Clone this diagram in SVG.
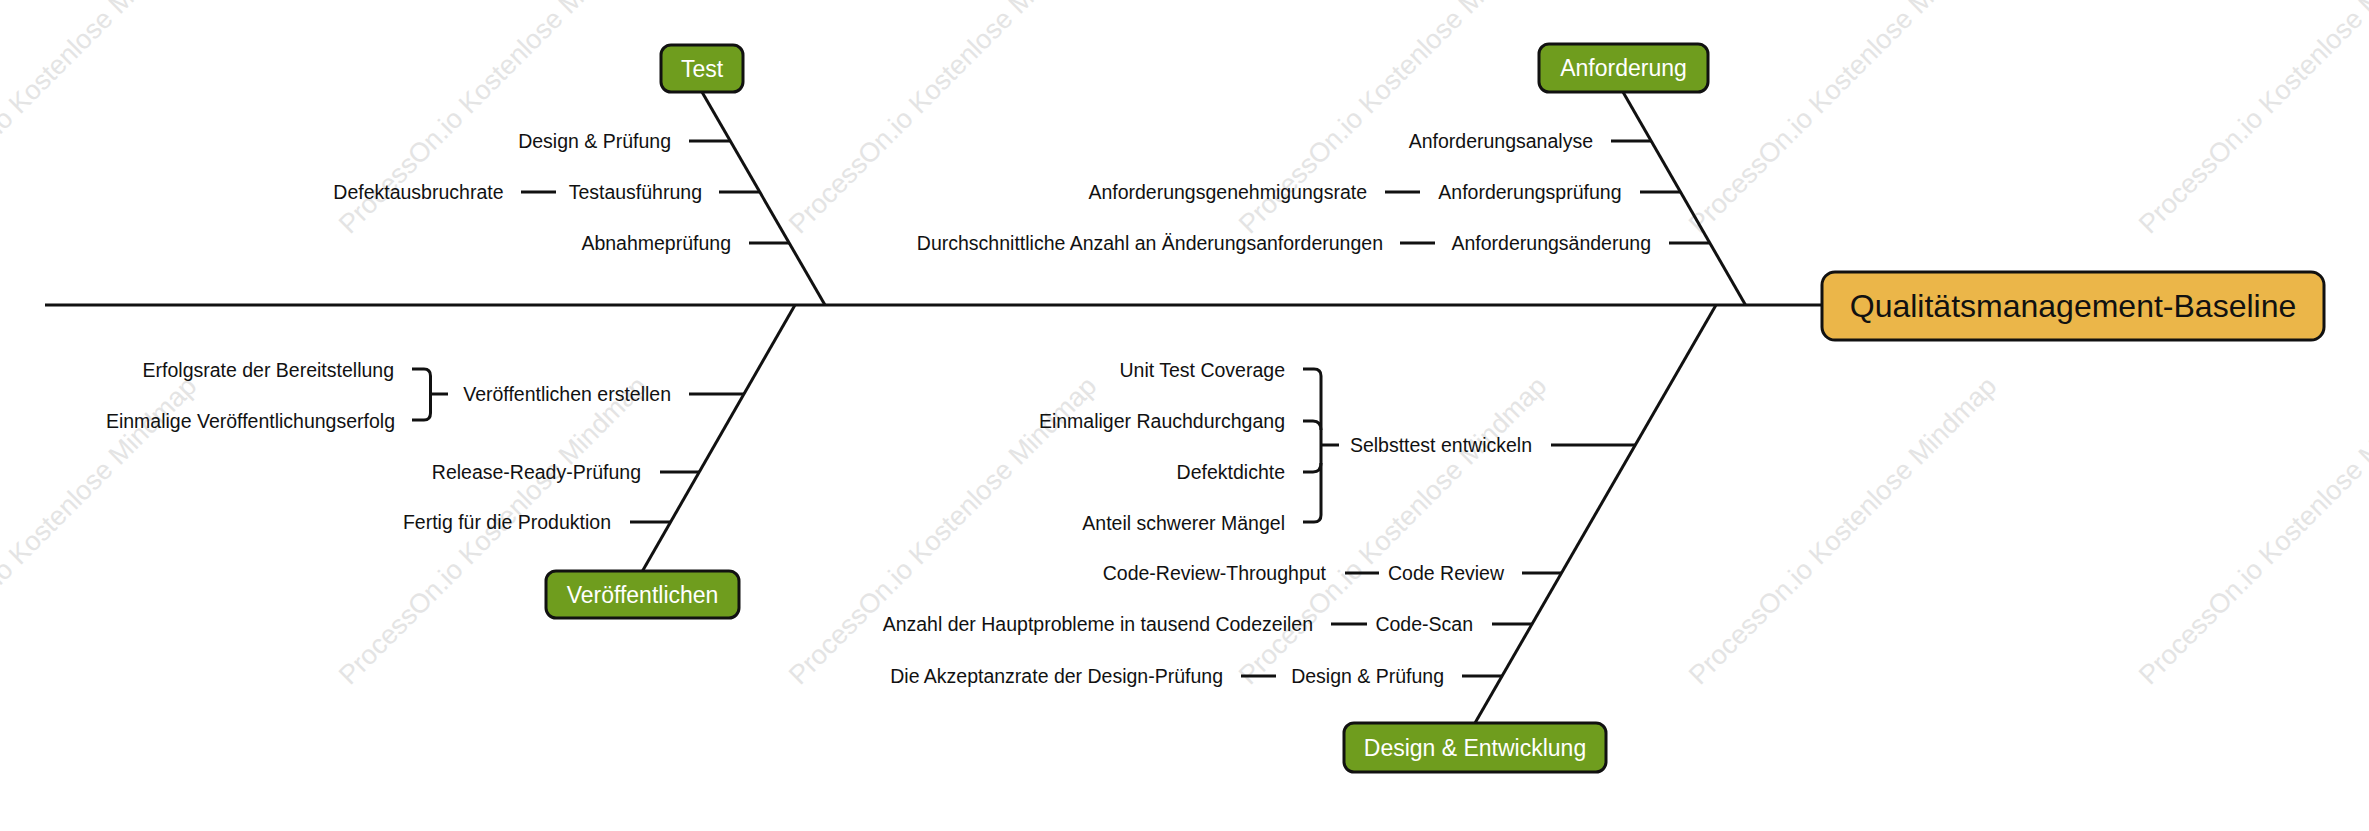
<svg xmlns="http://www.w3.org/2000/svg" width="2369" height="831" viewBox="0 0 2369 831">
<style>
.wm{font-family:"Liberation Sans",Arial,sans-serif;font-size:27px;fill:#e4e4e4}
.lbl{font-family:"Liberation Sans",Arial,sans-serif;font-size:19.5px;fill:#111;text-anchor:end}
.bt{font-family:"Liberation Sans",Arial,sans-serif;font-size:23px;fill:#fff;text-anchor:middle}
.rt{font-family:"Liberation Sans",Arial,sans-serif;font-size:32px;fill:#111;text-anchor:middle}
.box{fill:#6f9d1e;stroke:#111;stroke-width:3}
.root{fill:#ebb649;stroke:#111;stroke-width:3}
.ln{stroke:#111;stroke-width:3;fill:none;stroke-linecap:butt}
.br{stroke:#111;stroke-width:3;fill:none;stroke-linejoin:round}
</style>
<rect width="2369" height="831" fill="#fff"/>
<g id="watermarks">
<text class="wm" x="-100" y="235" transform="rotate(-45 -100 235)">ProcessOn.io Kostenlose Mindmap</text>
<text class="wm" x="350" y="235" transform="rotate(-45 350 235)">ProcessOn.io Kostenlose Mindmap</text>
<text class="wm" x="800" y="235" transform="rotate(-45 800 235)">ProcessOn.io Kostenlose Mindmap</text>
<text class="wm" x="1250" y="235" transform="rotate(-45 1250 235)">ProcessOn.io Kostenlose Mindmap</text>
<text class="wm" x="1700" y="235" transform="rotate(-45 1700 235)">ProcessOn.io Kostenlose Mindmap</text>
<text class="wm" x="2150" y="235" transform="rotate(-45 2150 235)">ProcessOn.io Kostenlose Mindmap</text>
<text class="wm" x="-100" y="686" transform="rotate(-45 -100 686)">ProcessOn.io Kostenlose Mindmap</text>
<text class="wm" x="350" y="686" transform="rotate(-45 350 686)">ProcessOn.io Kostenlose Mindmap</text>
<text class="wm" x="800" y="686" transform="rotate(-45 800 686)">ProcessOn.io Kostenlose Mindmap</text>
<text class="wm" x="1250" y="686" transform="rotate(-45 1250 686)">ProcessOn.io Kostenlose Mindmap</text>
<text class="wm" x="1700" y="686" transform="rotate(-45 1700 686)">ProcessOn.io Kostenlose Mindmap</text>
<text class="wm" x="2150" y="686" transform="rotate(-45 2150 686)">ProcessOn.io Kostenlose Mindmap</text>
</g>
<g id="connectors">
<line class="ln" x1="45" y1="305" x2="1822" y2="305"/>
<!-- Test -->
<line class="ln" x1="702" y1="92" x2="825" y2="305"/>
<line class="ln" x1="689" y1="141" x2="730" y2="141"/>
<line class="ln" x1="719" y1="192" x2="759" y2="192"/>
<line class="ln" x1="521" y1="192" x2="556" y2="192"/>
<line class="ln" x1="749" y1="243" x2="789" y2="243"/>
<!-- Anforderung -->
<line class="ln" x1="1623" y1="92" x2="1745.5" y2="305"/>
<line class="ln" x1="1611" y1="141" x2="1651" y2="141"/>
<line class="ln" x1="1640" y1="192" x2="1680" y2="192"/>
<line class="ln" x1="1385" y1="192" x2="1420" y2="192"/>
<line class="ln" x1="1669" y1="243" x2="1709" y2="243"/>
<line class="ln" x1="1400" y1="243" x2="1435" y2="243"/>
<!-- Veroeffentlichen -->
<line class="ln" x1="795" y1="305" x2="642.5" y2="571"/>
<line class="ln" x1="689" y1="394" x2="744" y2="394"/>
<line class="ln" x1="660" y1="472" x2="699" y2="472"/>
<line class="ln" x1="630" y1="522" x2="670" y2="522"/>
<path class="br" d="M412,369 H424 Q430.5,369 430.5,376 V413 Q430.5,420 424,420 H412"/>
<line class="ln" x1="430.5" y1="394" x2="448" y2="394"/>
<!-- Design & Entwicklung -->
<line class="ln" x1="1716" y1="305" x2="1475" y2="723"/>
<line class="ln" x1="1551" y1="445" x2="1635" y2="445"/>
<path class="br" d="M1303,369 H1314 Q1321,369 1321,376 V515 Q1321,522 1314,522 H1303"/>
<path class="br" d="M1303,421 H1313 Q1321,421 1321,430"/>
<path class="br" d="M1303,472 H1313 Q1321,472 1321,463"/>
<line class="ln" x1="1321" y1="445" x2="1339" y2="445"/>
<line class="ln" x1="1522" y1="573" x2="1561" y2="573"/>
<line class="ln" x1="1345" y1="573" x2="1379" y2="573"/>
<line class="ln" x1="1492" y1="624" x2="1532" y2="624"/>
<line class="ln" x1="1331" y1="624" x2="1367" y2="624"/>
<line class="ln" x1="1462" y1="676" x2="1502" y2="676"/>
<line class="ln" x1="1241" y1="676" x2="1276" y2="676"/>
</g>
<g id="root">
<rect class="root" x="1822" y="272" width="502" height="68" rx="13"/>
<text class="rt" x="2073" y="317">Qualitätsmanagement-Baseline</text>
</g>
<g id="test">
<rect class="box" x="661" y="45" width="82" height="47" rx="10"/>
<text class="bt" x="702" y="76.5">Test</text>
</g>
<g id="test-items">
<text class="lbl" x="671" y="148">Design &amp; Prüfung</text>
<text class="lbl" x="702" y="199">Testausführung</text>
<text class="lbl" x="503.5" y="199">Defektausbruchrate</text>
<text class="lbl" x="731" y="250">Abnahmeprüfung</text>
</g>
<g id="anforderung">
<rect class="box" x="1539" y="44" width="169" height="48" rx="10"/>
<text class="bt" x="1623.5" y="76">Anforderung</text>
</g>
<g id="anforderung-items">
<text class="lbl" x="1593" y="148">Anforderungsanalyse</text>
<text class="lbl" x="1621.5" y="199">Anforderungsprüfung</text>
<text class="lbl" x="1367" y="199">Anforderungsgenehmigungsrate</text>
<text class="lbl" x="1651" y="250">Anforderungsänderung</text>
<text class="lbl" x="1383" y="250">Durchschnittliche Anzahl an Änderungsanforderungen</text>
</g>
<g id="veroeffentlichen">
<rect class="box" x="546" y="571" width="193" height="47" rx="10"/>
<text class="bt" x="642.5" y="602.5">Veröffentlichen</text>
</g>
<g id="veroeffentlichen-items">
<text class="lbl" x="671" y="401">Veröffentlichen erstellen</text>
<text class="lbl" x="394" y="377">Erfolgsrate der Bereitstellung</text>
<text class="lbl" x="395" y="428">Einmalige Veröffentlichungserfolg</text>
<text class="lbl" x="641" y="479">Release-Ready-Prüfung</text>
<text class="lbl" x="611" y="529">Fertig für die Produktion</text>
</g>
<g id="design-entwicklung">
<rect class="box" x="1344" y="723" width="262" height="49" rx="10"/>
<text class="bt" x="1475" y="755.5">Design &amp; Entwicklung</text>
</g>
<g id="design-entwicklung-items">
<text class="lbl" x="1532" y="452">Selbsttest entwickeln</text>
<text class="lbl" x="1285" y="377">Unit Test Coverage</text>
<text class="lbl" x="1285" y="428">Einmaliger Rauchdurchgang</text>
<text class="lbl" x="1285" y="479">Defektdichte</text>
<text class="lbl" x="1285" y="530">Anteil schwerer Mängel</text>
<text class="lbl" x="1504" y="580">Code Review</text>
<text class="lbl" x="1326" y="580">Code-Review-Throughput</text>
<text class="lbl" x="1473" y="631">Code-Scan</text>
<text class="lbl" x="1313" y="631">Anzahl der Hauptprobleme in tausend Codezeilen</text>
<text class="lbl" x="1444" y="683">Design &amp; Prüfung</text>
<text class="lbl" x="1223" y="683">Die Akzeptanzrate der Design-Prüfung</text>
</g>
</svg>
